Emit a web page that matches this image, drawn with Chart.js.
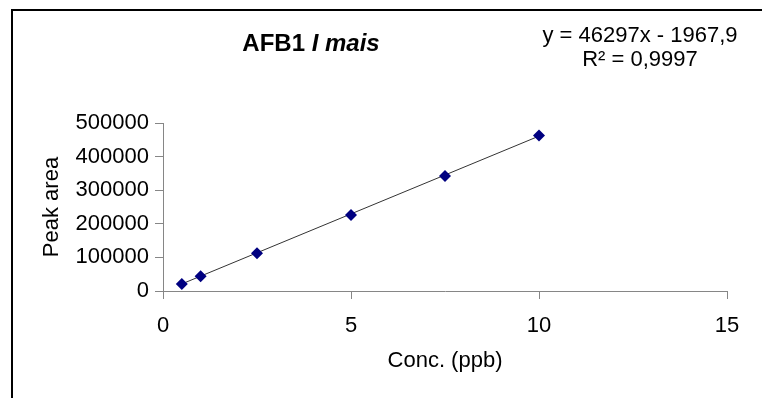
<!DOCTYPE html>
<html>
<head>
<meta charset="utf-8">
<script src="https://cdn.jsdelivr.net/npm/chart.js"></script>
<style>
  html, body { margin: 0; padding: 0; background: #fff; overflow: hidden; }
  #wrap { position: relative; width: 762px; height: 398px; }
  #frame { position: absolute; left: 11px; top: 9px; width: 800px; height: 450px; border: 2px solid #000; }
  #chart { position: absolute; left: 0; top: 0; }
  .txt { position: absolute; font-family: "Liberation Sans", Arial, sans-serif; color: #000; white-space: nowrap; transform: translate(-50%, -50%); }
  #title { left: 311px; top: 43px; font-size: 24px; font-weight: bold; }
  #eq { left: 640px; top: 47px; font-size: 22px; text-align: center; line-height: 24px; }
</style>
</head>
<body>
<div id="wrap">
  <div id="frame"></div>
  <canvas id="chart" width="762" height="398"></canvas>
  <div id="title" class="txt">AFB1 <i>I mais</i></div>
  <div id="eq" class="txt">y = 46297x - 1967,9<br>R² = 0,9997</div>
</div>
<script>
const concX = [0.5, 1, 2.5, 5, 7.5, 10];
const peakArea = [21000, 44000, 112000, 226000, 342000, 463000];
const trendX = [0.5, 10];
const trendY = [21000, 461000];
const xTicks = [0, 5, 10, 15];
const yTicks = [0, 100000, 200000, 300000, 400000, 500000];

const font = 'Liberation Sans';
const axisGray = '#868686';

new Chart(document.getElementById('chart').getContext('2d'), {
  type: 'scatter',
  data: {
    datasets: [{
      label: 'Peak area',
      data: concX.map((x, i) => ({ x: x, y: peakArea[i] })),
      pointStyle: 'rectRot',
      pointRadius: 6,
      backgroundColor: '#000080',
      borderColor: '#000080',
      borderWidth: 0,
      order: 1
    }, {
      label: 'Linear',
      type: 'line',
      data: trendX.map((x, i) => ({ x: x, y: trendY[i] })),
      borderColor: '#333',
      borderWidth: 1,
      pointRadius: 0,
      fill: false,
      order: 2
    }]
  },
  options: {
    responsive: false,
    animation: false,
    layout: { padding: { left: 30, top: 123, right: 35, bottom: 20 } },
    plugins: { legend: { display: false }, tooltip: { enabled: false } },
    scales: {
      x: {
        type: 'linear',
        min: xTicks[0],
        max: xTicks[xTicks.length - 1],
        afterBuildTicks: s => { s.ticks = xTicks.map(v => ({ value: v })); },
        afterFit: s => { s.height = 87; },
        grid: { drawOnChartArea: false, drawTicks: true, tickLength: 8, color: axisGray },
        border: { color: axisGray, width: 1 },
        ticks: { color: '#000', font: { family: font, size: 22 }, padding: 14, maxRotation: 0 },
        title: { display: true, text: 'Conc. (ppb)', color: '#000', font: { family: font, size: 22 }, padding: { top: 0, bottom: 4 } }
      },
      y: {
        min: yTicks[0],
        max: yTicks[yTicks.length - 1],
        afterBuildTicks: s => { s.ticks = yTicks.map(v => ({ value: v })); },
        afterFit: s => { s.width = 133; },
        grid: { drawOnChartArea: false, drawTicks: true, tickLength: 8, color: axisGray },
        border: { color: axisGray, width: 1 },
        ticks: { color: '#000', font: { family: font, size: 22 }, padding: 6, callback: v => String(v) },
        title: { display: true, text: 'Peak area', color: '#000', font: { family: font, size: 22 }, padding: { top: 9, bottom: 0 } }
      }
    }
  }
});
</script>
</body>
</html>
